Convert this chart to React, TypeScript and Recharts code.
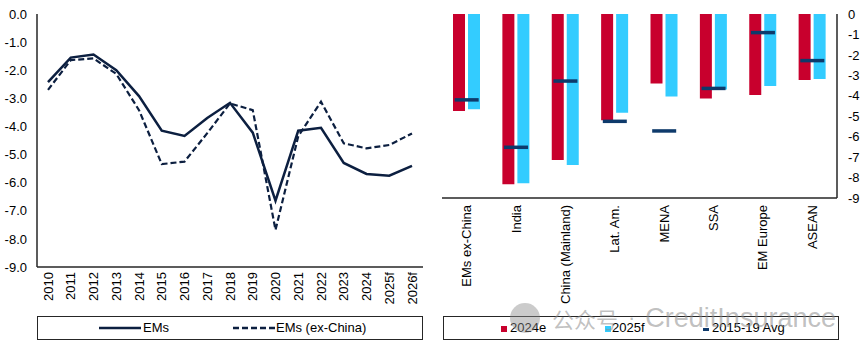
import React from 'react';
import { LineChart, Line, XAxis, YAxis, ComposedChart, Bar, Scatter, Legend } from 'recharts';

const years = ['2010', '2011', '2012', '2013', '2014', '2015', '2016', '2017', '2018', '2019', '2020', '2021', '2022', '2023', '2024', '2025f', '2026f'];
const emsValues = [-2.42, -1.55, -1.44, -2.0, -2.92, -4.15, -4.34, -3.7, -3.16, -4.22, -6.64, -4.15, -4.05, -5.3, -5.69, -5.75, -5.4];
const emsExChinaValues = [-2.7, -1.64, -1.58, -2.13, -3.42, -5.34, -5.25, -4.24, -3.18, -3.42, -7.68, -4.35, -3.12, -4.6, -4.78, -4.66, -4.25];
const yTicks = [0, -1, -2, -3, -4, -5, -6, -7, -8, -9];

const regions = ['EMs ex-China', 'India', 'China (Mainland)', 'Lat. Am.', 'MENA', 'SSA', 'EM Europe', 'ASEAN'];
const values2024e = [-4.75, -8.33, -7.14, -5.2, -3.4, -4.13, -3.96, -3.23];
const values2025f = [-4.66, -8.28, -7.39, -4.83, -4.04, -3.69, -3.52, -3.18];
const avg2015to19 = [-4.2, -6.52, -3.28, -5.25, -5.72, -3.64, -0.91, -2.28];

const leftSeries = ['EMs', 'EMs (ex-China)'];
const rightSeries = ['2024e', '2025f', '2015-19 Avg'];

const leftData = years.map((y, i) => ({ year: y, ems: emsValues[i], exChina: emsExChinaValues[i] }));
const rightData = regions.map((r, i) => ({ region: r, e2024: values2024e[i], f2025: values2025f[i], avg: avg2015to19[i] }));

const FONT = '"Liberation Sans", Arial, sans-serif';
const NAVY = '#0C1F40';
const RED = '#C8002D';
const BLUE = '#33CCFF';
const AVG = '#0E3A6B';
const FRAME = { stroke: '#262626', strokeWidth: 1.5 };

const RotTick = (props: any) => {
  const { x, y, payload } = props;
  return (
    <text x={x} y={y} transform={`rotate(-90 ${x} ${y})`} textAnchor="end" dy="0.35em" fontSize={13} fill="#000" fontFamily={FONT}>
      {payload.value}
    </text>
  );
};

const AvgMark = (props: any) => {
  const { cx, cy } = props;
  if (cx == null || cy == null) return null;
  return <rect x={cx - 12} y={cy - 1.75} width={24} height={3.5} fill={AVG} />;
};

const legendBox: React.CSSProperties = {
  position: 'relative',
  width: '100%',
  height: 24,
  border: '1.5px solid #262626',
  boxSizing: 'border-box',
  fontSize: 13,
  fontFamily: FONT,
  color: '#000',
};

const LeftLegend = () => (
  <div style={legendBox}>
    <svg style={{ position: 'absolute', left: 61, top: 9 }} width={42} height={4}>
      <line x1={0} y1={2} x2={42} y2={2} stroke={NAVY} strokeWidth={2.5} />
    </svg>
    <span style={{ position: 'absolute', left: 105, top: 3 }}>{leftSeries[0]}</span>
    <svg style={{ position: 'absolute', left: 195, top: 9 }} width={42} height={4}>
      <line x1={0} y1={2} x2={42} y2={2} stroke={NAVY} strokeWidth={2.5} strokeDasharray="6 3" />
    </svg>
    <span style={{ position: 'absolute', left: 238, top: 3 }}>{leftSeries[1]}</span>
  </div>
);

const RightLegend = () => (
  <div style={legendBox}>
    <span style={{ position: 'absolute', left: 57, top: 9, width: 6, height: 6, background: RED }} />
    <span style={{ position: 'absolute', left: 66, top: 3 }}>{rightSeries[0]}</span>
    <span style={{ position: 'absolute', left: 161, top: 9, width: 6, height: 6, background: BLUE }} />
    <span style={{ position: 'absolute', left: 168, top: 3 }}>{rightSeries[1]}</span>
    <span style={{ position: 'absolute', left: 259, top: 11, width: 6, height: 3, background: AVG }} />
    <span style={{ position: 'absolute', left: 268, top: 3 }}>{rightSeries[2]}</span>
  </div>
);

export default function App() {
  return (
    <div style={{ position: 'absolute', left: 0, top: 0, width: 865, height: 351, background: '#fff', fontFamily: FONT, overflow: 'hidden' }}>
      <div style={{ position: 'absolute', left: 0, top: 0 }}>
        <LineChart width={430} height={351} data={leftData} margin={{ top: 14, right: 7, bottom: 0, left: 0 }}>
          <XAxis dataKey="year" interval={0} height={84} tickLine={false} tickSize={0} tickMargin={5} axisLine={FRAME} tick={<RotTick />} padding={{ left: 11, right: 11 }} />
          <XAxis xAxisId="top" dataKey="year" orientation="top" height={0} tick={false} tickLine={false} axisLine={FRAME} />
          <YAxis domain={[-9, 0]} ticks={yTicks} interval={0} width={37} tickLine={false} tickSize={0} tickMargin={10} axisLine={FRAME} tickFormatter={(v: number) => v.toFixed(1)} tick={{ fill: '#000', fontSize: 13, fontFamily: FONT }} />
          <YAxis yAxisId="r" orientation="right" domain={[-9, 0]} width={0} tick={false} tickLine={false} axisLine={FRAME} />
          <Line dataKey="ems" stroke={NAVY} strokeWidth={2.5} dot={false} isAnimationActive={false} />
          <Line dataKey="exChina" stroke={NAVY} strokeWidth={2.2} strokeDasharray="6 3" dot={false} isAnimationActive={false} />
          <Legend verticalAlign="middle" align="center" layout="horizontal" wrapperStyle={{ top: 316, left: 37, width: 386, height: 24 }} content={() => <LeftLegend />} />
        </LineChart>
      </div>
      <div style={{ position: 'absolute', left: 430, top: 0 }}>
        <ComposedChart width={435} height={351} data={rightData} margin={{ top: 14, right: 0, bottom: 0, left: 12 }} barGap={3}>
          <XAxis dataKey="region" interval={0} height={153} tickLine={false} tickSize={0} tickMargin={7} axisLine={FRAME} tick={<RotTick />} />
          <XAxis xAxisId="top" dataKey="region" orientation="top" height={0} tick={false} tickLine={false} axisLine={FRAME} />
          <YAxis yAxisId="r" orientation="right" domain={[-9, 0]} ticks={yTicks} interval={0} width={28} tickLine={false} tickSize={0} tickMargin={11} axisLine={FRAME} tick={{ fill: '#000', fontSize: 13, fontFamily: FONT, textAnchor: 'start' }} />
          <YAxis yAxisId="l" orientation="left" domain={[-9, 0]} width={0} tick={false} tickLine={false} axisLine={FRAME} />
          <Bar yAxisId="r" dataKey="e2024" fill={RED} barSize={12} isAnimationActive={false} />
          <Bar yAxisId="r" dataKey="f2025" fill={BLUE} barSize={12} isAnimationActive={false} />
          <Scatter yAxisId="r" dataKey="avg" fill={AVG} shape={<AvgMark />} isAnimationActive={false} />
          <Legend verticalAlign="middle" align="center" layout="horizontal" wrapperStyle={{ top: 316, left: 13, width: 396, height: 24 }} content={() => <RightLegend />} />
        </ComposedChart>
      </div>
      <div style={{ position: 'absolute', left: 510, top: 303, display: 'flex', alignItems: 'center', color: 'rgba(140,140,140,0.55)', pointerEvents: 'none', whiteSpace: 'nowrap', lineHeight: 1 }}>
        <span style={{ display: 'inline-block', width: 30, height: 30, borderRadius: 15, background: 'rgba(140,140,140,0.45)', marginRight: 12 }} />
        <span style={{ fontFamily: '"Noto Sans CJK SC", sans-serif', fontSize: 22 }}>公众号</span>
        <span style={{ fontSize: 22, margin: '0 10px' }}>·</span>
        <span style={{ fontSize: 27, fontFamily: FONT }}>CreditInsurance</span>
      </div>
    </div>
  );
}
